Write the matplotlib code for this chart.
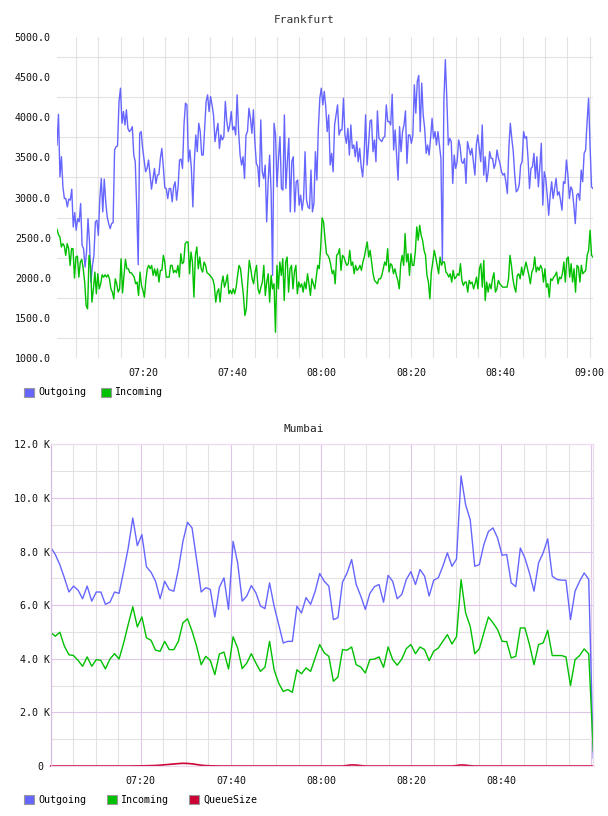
import numpy as np
import matplotlib.pyplot as plt
from matplotlib.patches import Patch
from matplotlib.ticker import MultipleLocator, FixedLocator, FuncFormatter

plt.rcParams['font.family'] = ['DejaVu Sans Mono']

# times are minutes after 07:00
FRA_START, FRA_END = 0.74, 120.76
fra_out = [
    3654, 4037, 3258, 3508, 3133, 2987, 2987, 2883, 2980, 2967,
    3104, 2633, 2812, 2592, 2737, 2696, 2925, 2404, 2362, 2133,
    2321, 2737, 2446, 1946, 2154, 2279, 2696, 2717, 2529, 2987,
    3237, 2821, 3229, 2946, 2758, 2675, 2612, 2675, 2687, 3592,
    3633, 3642, 4196, 4362, 3925, 4071, 3904, 4092, 3862, 3821,
    3840, 3883, 3529, 3446, 2862, 2162, 3800, 3821, 3612, 3467,
    3321, 3362, 3467, 3279, 3104, 3237, 3362, 3175, 3279, 3287,
    3487, 3612, 3383, 3121, 3112, 2987, 3112, 3112, 2946, 3133,
    3196, 2967, 3133, 3467, 3479, 3362, 3904, 4175,
    4154, 3446, 3592, 3362, 2883, 3446, 3779, 3571, 3925, 3821,
    3529, 3529, 3862, 4196, 4279, 4071, 4258, 4154, 4029, 3696,
    3821, 3925, 3612, 3779, 3717, 3758, 4196, 3946, 3821, 3904,
    4071, 3842, 3883, 3779, 4279, 3821, 3529, 3404, 3508, 3237,
    3779, 3821, 4112, 3987, 3800, 4092, 3696, 3425, 3383, 3133,
    3967, 3321, 3237, 3404, 2696, 3196, 3529, 3071, 2029, 3925,
    3779, 3133, 3487, 3758, 3112, 3092, 4029, 3112, 3446, 3737,
    2821, 3446, 3508, 2821, 3196, 3217, 2904, 3029, 2842, 2987,
    3571, 2967, 2883, 2862, 3342, 2821, 2925, 3571, 3217, 3862,
    4237, 4362,
    4154, 4321, 4133, 3821, 4029, 3404, 3550, 3321, 3904, 4029,
    4154, 3779, 3842, 3842, 4237, 3779, 3675, 3862, 3529, 3904,
    3612, 3654, 3508, 3696, 3446, 3612, 3383, 3258, 3529, 4029,
    3404, 3654, 3954, 3967, 3571, 3717, 3446, 4079, 3737, 3717,
    3696, 3746, 3758, 4154, 3946, 3946, 3904, 4287, 3592, 3842,
    3529, 3217, 3883, 3571, 3821, 3904, 4079, 3425, 3779, 3779,
    3675, 3779, 4404, 4050, 4446, 4521, 3821, 4425, 4029, 3862,
    3550, 3654, 3529, 3737, 3987, 3737, 3821, 3654, 3821, 3654,
    3487, 2196, 4196, 4717, 4237, 3654, 3737, 3696, 3175, 3529,
    3362, 3446,
    3717, 3633, 3446, 3425, 3487, 3175, 3696, 3612, 3529, 3612,
    3446, 3279, 3654, 3779, 3612, 3446, 3904, 3279, 3508, 3196,
    3321, 3571, 3487, 3487, 3362, 3425, 3592, 3487, 3425, 3321,
    3279, 3300, 3196, 3050, 3612, 3925, 3737, 3571, 3279, 3071,
    3092, 3154, 3404, 3446, 3821, 3737, 3758, 3487, 3112, 3362,
    3383, 3550, 3237, 3508, 3133, 3383, 3675, 2904, 3321, 3237,
    3029, 2779, 3029, 3196, 2987, 3112, 3237, 3029, 3071, 2967,
    2842, 3196, 3175, 3467, 3279, 2987, 3133, 3092, 2904, 2675,
    3029, 3050, 2967, 3342, 3196, 3550, 3592, 3946, 4237, 3654,
    3133, 3112,
]
fra_in = [
    2604, 2537, 2508, 2383, 2425, 2396, 2279, 2425, 2362, 2154,
    2362, 2362, 1996, 2258, 2270, 2008, 2196, 2229, 2112, 1946,
    1654, 1612, 2279, 2154, 1696, 1862, 2071, 1800, 2050, 1862,
    1925, 2037, 2008, 2037, 2008, 2037, 1987, 1862, 1821, 1737,
    1987, 1925, 1821, 1862, 2237, 1812, 2029, 2229, 2112, 2112,
    2062, 2062, 2037, 2008, 1925, 1946, 1779, 2071, 1904, 1842,
    1758, 1967, 2112, 2154, 2112, 2154, 2029, 2112, 2021, 2112,
    1946, 2092, 2092, 2279, 2196, 2008, 2008, 2008, 2154, 2154,
    2062, 2092, 2062, 2154, 2008, 2300, 2175, 2196, 2425, 2446,
    2446, 2050, 2321, 2196, 1758, 2279, 2383, 2112, 2258, 2112,
    2071, 2196, 2154, 2062, 2050, 2029, 2008, 1979, 1904, 1696,
    1821, 1862, 1696, 1925, 2021, 1883, 1946, 2037, 1800, 1842,
    1800, 1862, 1800, 1883, 2029, 2154, 2112, 1946, 1779, 1529,
    1612, 1946, 2217, 2112, 1987, 1925, 2071, 2154, 1862, 1800,
    1883, 1946, 2154, 1779, 1946, 2050, 1696, 2029, 1862, 1925,
    1321, 2154, 1862, 2196, 2029, 2237, 1717, 2196, 2258, 1821,
    2112, 2154, 1862, 2071, 2154, 1800, 1946, 1883, 1925, 1821,
    1946, 1862, 2050, 1925, 1779, 1987, 1925, 1862, 2008, 2154,
    2112, 2362, 2746, 2696,
    2487, 2300, 2279, 2237, 2154, 2050, 2092, 1925, 2279, 2300,
    2362, 2092, 2279, 2258, 2196, 2154, 2175, 2342, 2154, 2196,
    2050, 2154, 2092, 2112, 2154, 2092, 2196, 2258, 2362, 2446,
    2258, 2342, 2196, 2050, 1967, 1946, 1925, 1987, 1987, 2029,
    2112, 2196, 2154, 2362, 2071, 2175, 2154, 2050, 2112, 2029,
    1967, 1862, 2175, 2279, 2154, 2550, 2196, 2300, 2029, 2300,
    2154, 2154, 2321, 2633, 2467, 2654, 2529, 2467, 2342, 2279,
    2029, 1946, 1738, 2071, 2196, 2342, 2258, 2154, 2050, 2258,
    2154, 2196, 2196, 2071, 2050, 2008, 2050, 1946, 2092, 1987,
    2008, 2050, 2029,
    2175, 1967, 1904, 1946, 1946, 1821, 1967, 1925, 1946, 1862,
    1925, 2008, 1862, 2112, 2175, 1883, 2217, 1717, 1946, 1821,
    1925, 1862, 1987, 2062, 1821, 1862, 1967, 1925, 1904, 1883,
    1883, 1883, 1883, 1987, 2279, 2154, 1987, 1883, 1821, 2029,
    2050, 1987, 2133, 2029, 2112, 2196, 2112, 2029, 1925, 2071,
    2112, 2258, 2071, 2133, 2092, 2154, 2112, 1946, 2112, 1883,
    1925, 1758, 1987, 1967, 2008, 2029, 2071, 1925, 2008, 1987,
    2050, 2196, 1946, 2237, 2258, 2008, 2175, 1946, 2112, 1821,
    2154, 2133, 1946, 2154, 2050, 2071, 2092, 2279, 2342, 2592,
    2279, 2258,
]

MUM_START, MUM_END = 0.0, 120.4
# values in thousands
mum_out = [
    8.16, 7.89, 7.51, 7.02, 6.49, 6.71, 6.56, 6.24, 6.71, 6.15,
    6.49, 6.49, 6.03, 6.11, 6.49, 6.44, 7.27, 8.13, 9.25, 8.22,
    8.63, 7.43, 7.23, 6.89, 6.24, 6.89, 6.58, 6.52, 7.33, 8.38,
    9.09, 8.88, 7.70, 6.49, 6.65, 6.59, 5.56, 6.67, 7.02, 5.84,
    8.38, 7.58, 6.15, 6.34, 6.73, 6.46, 5.97, 5.87, 6.83, 5.96,
    5.28, 4.59, 4.65, 4.65, 5.96, 5.71, 6.28, 6.03, 6.52, 7.18,
    6.89, 6.71, 5.46, 5.53, 6.86, 7.20, 7.70, 6.77, 6.34, 5.84,
    6.44, 6.69, 6.77, 6.11, 7.11, 6.89, 6.24, 6.40, 6.96, 7.25,
    6.77, 7.33, 7.08, 6.34, 6.93, 7.02, 7.45, 7.95, 7.45, 7.72,
    10.82, 9.74, 9.19, 7.45, 7.51, 8.26, 8.75, 8.88, 8.51, 7.86,
    7.89, 6.83, 6.69, 8.13, 7.76, 7.20, 6.52, 7.58, 7.95, 8.47,
    7.08, 6.96, 6.93, 6.93, 5.46, 6.52, 6.89, 7.20, 6.96, 0.29,
]
mum_in = [
    4.99, 4.84, 4.99, 4.47, 4.15, 4.12, 3.94, 3.72, 4.07, 3.72,
    3.97, 3.94, 3.62, 3.99, 4.19, 3.99, 4.59, 5.28, 5.94, 5.19,
    5.56, 4.78, 4.69, 4.32, 4.28, 4.65, 4.34, 4.34, 4.65, 5.34,
    5.49, 5.03, 4.47, 3.78, 4.09, 3.94, 3.41, 4.18, 4.25, 3.62,
    4.82, 4.40, 3.63, 3.84, 4.19, 3.84, 3.53, 3.69, 4.65, 3.59,
    3.09, 2.78, 2.85, 2.75, 3.59, 3.44, 3.66, 3.53, 4.03, 4.53,
    4.22, 4.09, 3.16, 3.32, 4.34, 4.32, 4.44, 3.78, 3.69, 3.47,
    3.97, 3.99, 4.07, 3.68, 4.44, 3.97, 3.76, 3.99, 4.38, 4.53,
    4.19, 4.44, 4.34, 3.93, 4.28, 4.40, 4.65, 4.90, 4.55, 4.82,
    6.95, 5.71, 5.21, 4.19, 4.37, 4.97, 5.56, 5.34, 5.09, 4.65,
    4.64, 4.03, 4.09, 5.15, 5.15, 4.53, 3.78, 4.53, 4.59, 5.06,
    4.12, 4.12, 4.12, 4.07, 3.00, 3.97, 4.12, 4.37, 4.18, 0.54,
]
mum_queue = [
    0, 0, 0, 0, 0, 0, 0, 0, 0, 0,
    0, 0, 0, 0, 0, 0, 0, 0, 0.002, 0.004,
    0.006, 0.01, 0.015, 0.02, 0.03, 0.045, 0.06, 0.075, 0.09, 0.1,
    0.095, 0.08, 0.055, 0.03, 0.015, 0.008, 0.004, 0, 0, 0,
    0, 0, 0, 0, 0, 0, 0, 0, 0, 0,
    0, 0, 0, 0, 0, 0, 0, 0, 0, 0,
    0, 0, 0, 0, 0, 0.02, 0.04, 0.035, 0.015, 0,
    0, 0, 0, 0, 0, 0, 0, 0, 0, 0,
    0, 0, 0, 0, 0, 0, 0, 0, 0, 0.015,
    0.04, 0.03, 0.01, 0, 0, 0, 0, 0, 0, 0,
    0, 0, 0, 0, 0, 0, 0, 0, 0, 0,
    0, 0, 0, 0, 0, 0, 0, 0, 0, 0,
]

time_labels = ["07:20", "07:40", "08:00", "08:20", "08:40", "09:00"]
series_names = ["Outgoing", "Incoming", "QueueSize"]
colors = ["#6666ff", "#00c000", "#cc0033"]


def to_minutes(label):
    h, m = label.split(":")
    return int(h) * 60 + int(m) - 7 * 60


tick_pos = [to_minutes(s) for s in time_labels]
FS = 7.2

fig = plt.figure(figsize=(6.08, 8.16), dpi=100)

# ---- Frankfurt ----
ax1 = fig.add_axes([57 / 608, 1 - 358 / 816, 536 / 608, 321 / 816])
t1o = np.linspace(FRA_START, FRA_END, len(fra_out))
t1i = np.linspace(FRA_START, FRA_END, len(fra_in))
ax1.plot(t1o, fra_out, color=colors[0], lw=1.0)
ax1.plot(t1i, fra_in, color=colors[1], lw=1.0)
ax1.set_xlim(FRA_START, FRA_END)
ax1.set_ylim(1000, 5000)
ax1.xaxis.set_major_locator(FixedLocator(tick_pos))
ax1.set_xticklabels(time_labels)
ax1.xaxis.set_minor_locator(MultipleLocator(5))
ax1.yaxis.set_major_locator(MultipleLocator(500))
ax1.yaxis.set_minor_locator(FixedLocator(np.arange(1250, 5000, 500)))
ax1.yaxis.set_major_formatter(FuncFormatter(lambda v, p: f"{v:.1f}"))
ax1.xaxis.grid(True, which="both", color="#e2e2e2", lw=0.8)
ax1.yaxis.grid(True, which="minor", color="#e2e2e2", lw=0.8)
ax1.set_axisbelow(True)
for s in ax1.spines.values():
    s.set_visible(False)
ax1.tick_params(which="both", length=0, labelsize=FS, colors="#111111")
ax1.tick_params(axis="y", pad=4.5)
ax1.tick_params(axis="x", pad=7)
fig.text(0.5, 1 - 20 / 816, "Frankfurt", ha="center", va="center",
         fontsize=8, color="#333333")

# ---- Mumbai ----
ax2 = fig.add_axes([50.7 / 608, 1 - 766 / 816, 542.6 / 608, 321.7 / 816])
t2 = np.linspace(MUM_START, MUM_END, len(mum_out))
ax2.plot(t2, mum_out, color=colors[0], lw=1.0)
ax2.plot(t2, mum_in, color=colors[1], lw=1.0)
ax2.plot(t2, mum_queue, color=colors[2], lw=1.2, clip_on=False)
ax2.set_xlim(MUM_START, MUM_END)
ax2.set_ylim(0, 12)
ax2.xaxis.set_major_locator(FixedLocator(tick_pos))
ax2.set_xticklabels(time_labels[:-1] + [""])
ax2.xaxis.set_minor_locator(MultipleLocator(5))
ax2.yaxis.set_major_locator(MultipleLocator(2))
ax2.yaxis.set_minor_locator(MultipleLocator(1))
ax2.yaxis.set_major_formatter(
    FuncFormatter(lambda v, p: "0\u00a0" if v == 0 else f"{v:.1f} K"))
ax2.grid(True, which="major", color="#e0c6e6", lw=0.8)
ax2.grid(True, which="minor", color="#e4e0e4", lw=0.8)
ax2.set_axisbelow(True)
for s in ax2.spines.values():
    s.set_color("#ecdaf0")
    s.set_linewidth(0.9)
ax2.spines["left"].set_color("#d8bee0")
ax2.tick_params(which="both", length=0, labelsize=FS, colors="#111111")
ax2.tick_params(axis="y", pad=0.5)
ax2.tick_params(axis="x", pad=7.5)
fig.text(0.5, 1 - 429 / 816, "Mumbai", ha="center", va="center",
         fontsize=8, color="#222222")

# ---- legends ----
def handles(n):
    return [Patch(facecolor=colors[i], edgecolor="#999999", lw=0.8,
                  label=series_names[i]) for i in range(n)]


fig.legend(handles=handles(2), loc="center left",
           bbox_to_anchor=(24 / 608, 1 - 392.5 / 816), ncol=2,
           frameon=False, fontsize=FS, handlelength=1.0, handleheight=1.0,
           handletextpad=0.4, columnspacing=1.45, borderpad=0,
           borderaxespad=0)
fig.legend(handles=handles(3), loc="center left",
           bbox_to_anchor=(24 / 608, 1 - 800 / 816), ncol=3,
           frameon=False, fontsize=FS, handlelength=1.0, handleheight=1.0,
           handletextpad=0.4, columnspacing=2.05, borderpad=0,
           borderaxespad=0)

fig.savefig("out.png", dpi=100)
